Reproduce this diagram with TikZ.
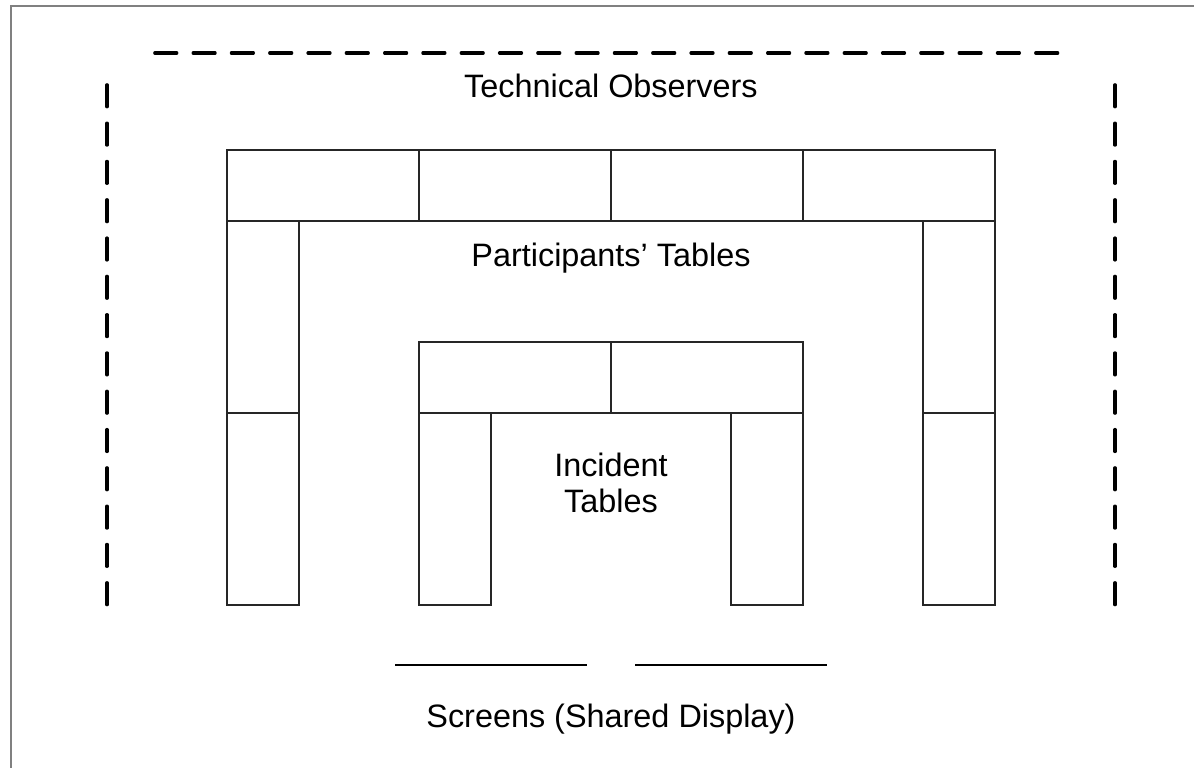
\documentclass[tikz,border=0pt]{standalone}
\usepackage{fontspec}
\setmainfont{Liberation Sans}
\begin{document}
\begin{tikzpicture}[x=1pt,y=-1pt,
  table/.style={draw=black!85, line width=1.3pt},
  observer/.style={draw=black, line width=3.2pt, line cap=round, dash pattern=on 22pt off 16.3pt},
  frame/.style={draw=black!50, line width=2pt},
  screen/.style={draw=black, line width=1.5pt},
  label/.style={anchor=base, inner sep=0pt, font=\fontsize{32.4}{36}\selectfont}]
\useasboundingbox (0,0) rectangle (1194,768);
\fill[white] (0,0) rectangle (1194,768);
% page frame
\draw[frame] (11,769) -- (11,6) -- (1195,6);
% technical observers (dashed)
\draw[observer] (154.8,53) -- (1061,53);
\draw[observer] (107,84.8) -- (107,606);
\draw[observer] (1115,84.8) -- (1115,606);
% participants' tables
\draw[table] (227,150) rectangle (419,221);
\draw[table] (419,150) rectangle (611,221);
\draw[table] (611,150) rectangle (803,221);
\draw[table] (803,150) rectangle (995,221);
\draw[table] (227,221) rectangle (299,413);
\draw[table] (227,413) rectangle (299,605);
\draw[table] (923,221) rectangle (995,413);
\draw[table] (923,413) rectangle (995,605);
% incident tables
\draw[table] (419,342) rectangle (611,413);
\draw[table] (611,342) rectangle (803,413);
\draw[table] (419,413) rectangle (491,605);
\draw[table] (731,413) rectangle (803,605);
% screens
\coordinate (s1a) at (395,665); \coordinate (s1b) at (587,665);
\coordinate (s2a) at (635,665); \coordinate (s2b) at (827,665);
\draw[screen] (s1a) -- (s1b);
\draw[screen] (s2a) -- (s2b);
% labels
\node[label] (obs) at (611,97) {Technical Observers};
\node[label] (part) at (611,266.5) {Participants’ Tables};
\node[label] (inc1) at (611,476) {Incident};
\node[label] (inc2) at (611,512) {Tables};
\node[label] (scr) at (611,727) {Screens (Shared Display)};
\end{tikzpicture}
\end{document}
